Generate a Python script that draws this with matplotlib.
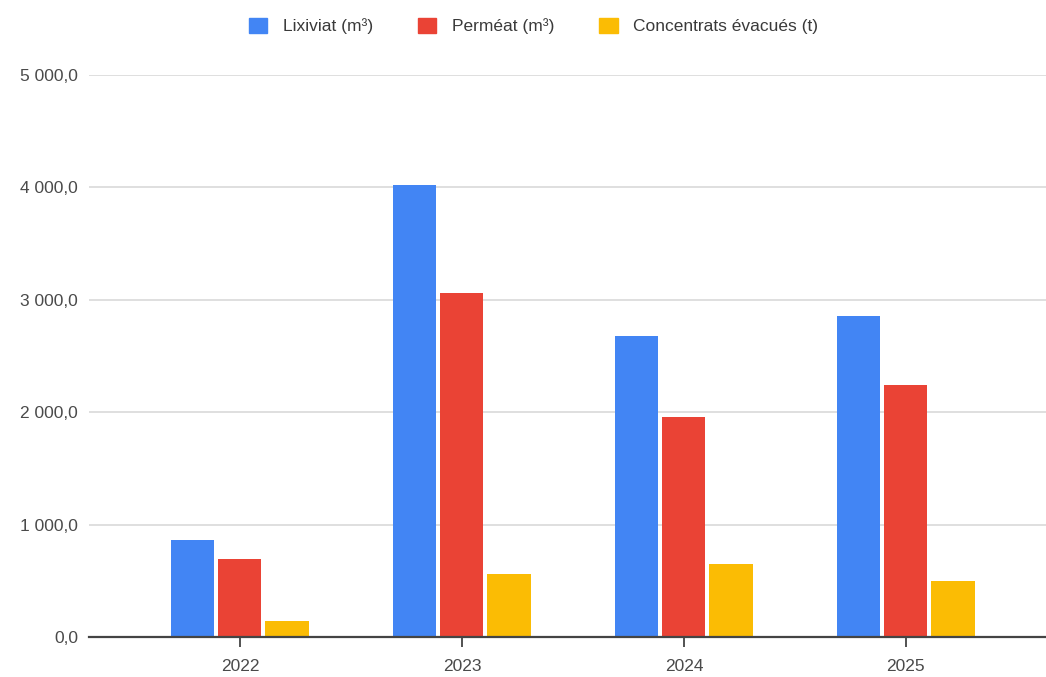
import matplotlib.pyplot as plt
import matplotlib.patches as mpatches
import numpy as np

plt.rcParams['font.family'] = ['Liberation Sans', 'DejaVu Sans']

years = ["2022", "2023", "2024", "2025"]
lixiviat = [863, 4025, 2680, 2856]
permeat = [694, 3060, 1961, 2242]
concentrats = [142, 560, 650, 498]

series = [
    ("Lixiviat (m³)", lixiviat, "#4285F4"),
    ("Perméat (m³)", permeat, "#EA4335"),
    ("Concentrats évacués (t)", concentrats, "#FBBC04"),
]

W, H = 1046, 677
fig = plt.figure(figsize=(W / 100, H / 100), dpi=100)
ax = fig.add_axes([89 / W, 40 / H, (1046 - 89) / W, (637 - 75) / H])

x = np.arange(len(years))
step = 0.212
width = 0.194
for i, (name, vals, col) in enumerate(series):
    ax.bar(x + (i - 1) * step, vals, width, color=col, zorder=3)

ax.set_ylim(0, 5000)
ax.set_xlim(-0.68, 3.631)
ax.set_yticks(np.arange(0, 5001, 1000))


def fmt(v):
    s = "{:,.1f}".format(v)
    return s.replace(",", " ").replace(".", ",")


ax.set_yticklabels([fmt(v) for v in ax.get_yticks()])
ax.set_xticks(x)
ax.set_xticklabels(years)

ax.grid(axis="y", color="#d9d9d9", linewidth=1.2, zorder=0)
for s in ["top", "right", "left"]:
    ax.spines[s].set_visible(False)
ax.spines["bottom"].set_color("#444444")
ax.spines["bottom"].set_linewidth(1.6)
ax.spines["bottom"].set_zorder(4)

ax.tick_params(axis="y", length=0, pad=8, labelsize=12.5, labelcolor="#4a4a4a")
ax.tick_params(axis="x", direction="inout", length=14, width=1.2, color="#333333",
               labelsize=12.5, labelcolor="#4a4a4a", pad=9)

handles = [mpatches.Patch(color=c, label=n) for n, v, c in series]
fig.legend(handles=handles, loc="center", bbox_to_anchor=(0.51, 1 - 26 / H), ncol=3,
           frameon=False, fontsize=12.5, handlelength=1.05, handleheight=1.0,
           columnspacing=2.6, handletextpad=0.9, labelcolor="#3a3a3a")

fig.savefig("out.png", dpi=100)
